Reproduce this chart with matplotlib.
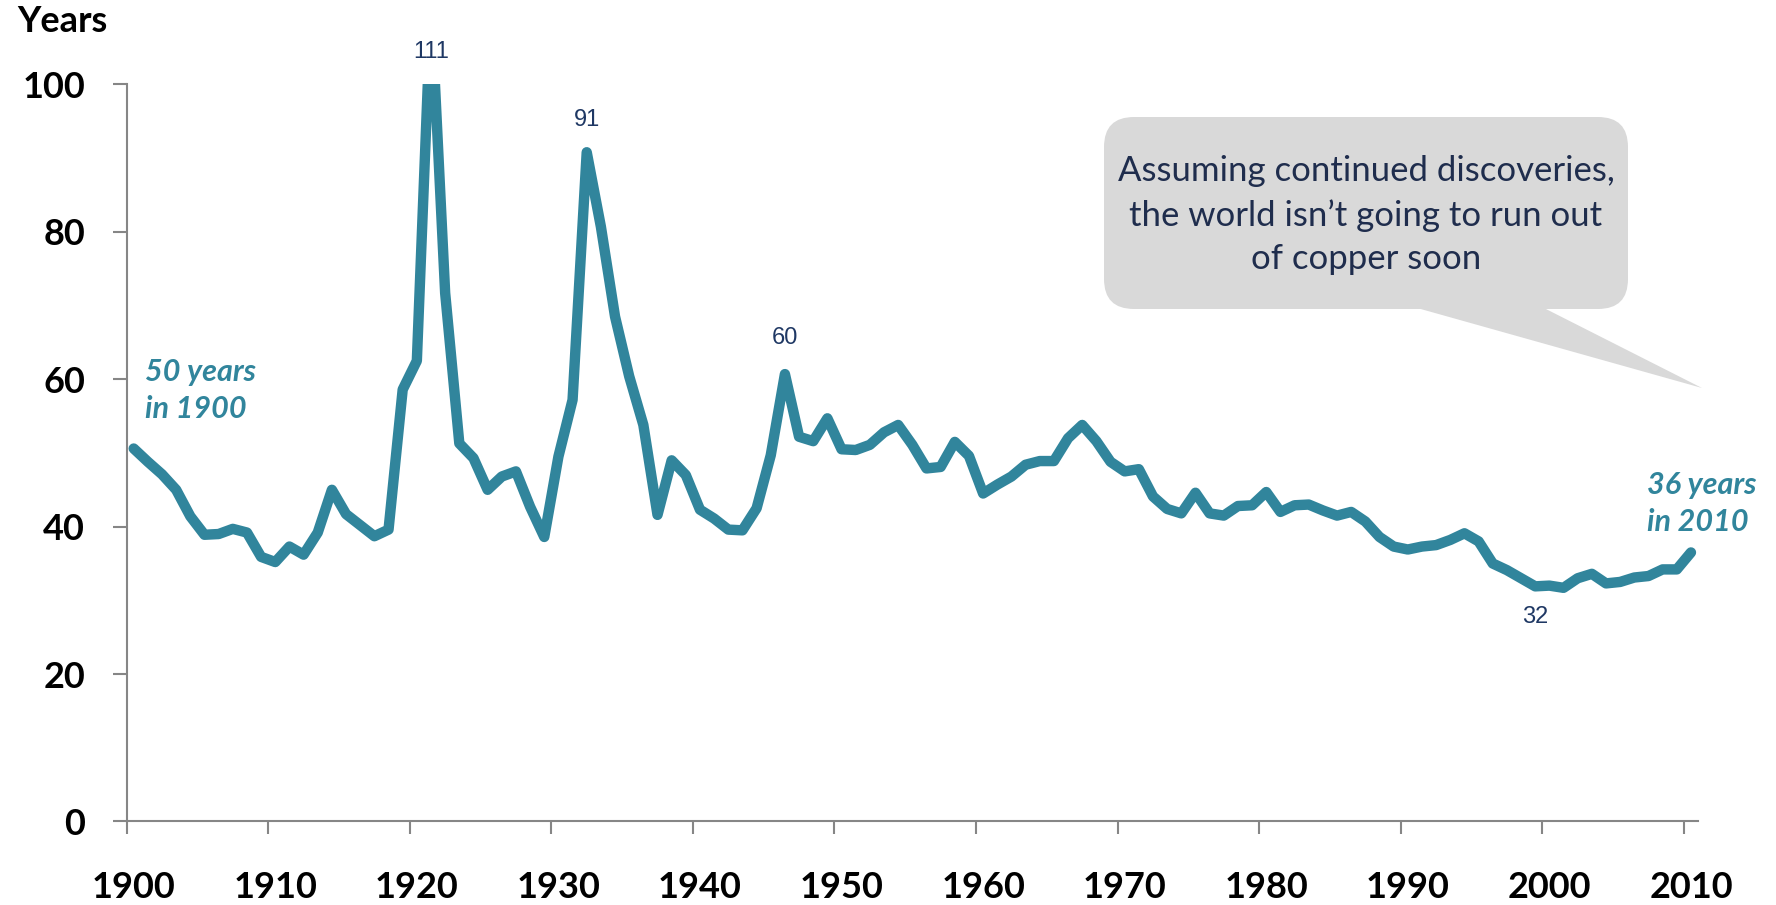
import numpy as np
import matplotlib
matplotlib.use("Agg")
import matplotlib.pyplot as plt
from matplotlib.patches import FancyBboxPatch, Polygon

# years of copper reserves (reserves / production)
years = np.arange(1900, 2011)
reserve_years = [
    50.6, 48.8, 47.1, 45.0, 41.4, 38.9, 39.0, 39.7, 39.2, 35.9,   # 1900s
    35.2, 37.3, 36.2, 39.2, 45.0, 41.7, 40.2, 38.7, 39.6, 58.6,   # 1910s
    62.5, 111.0, 71.7, 51.3, 49.3, 45.0, 46.8, 47.5, 42.7, 38.6,  # 1920s
    49.5, 57.2, 90.8, 80.7, 68.5, 60.4, 53.8, 41.6, 49.0, 47.0,   # 1930s
    42.3, 41.1, 39.6, 39.5, 42.5, 49.7, 60.7, 52.2, 51.6, 54.7,   # 1940s
    50.5, 50.4, 51.1, 52.8, 53.8, 51.1, 47.9, 48.1, 51.5, 49.6,   # 1950s
    44.5, 45.7, 46.8, 48.4, 48.9, 48.9, 52.0, 53.8, 51.6, 48.8,   # 1960s
    47.5, 47.8, 44.1, 42.4, 41.8, 44.6, 41.8, 41.5, 42.8, 42.9,   # 1970s
    44.7, 42.0, 42.9, 43.0, 42.2, 41.5, 42.0, 40.7, 38.6, 37.3,   # 1980s
    36.9, 37.3, 37.5, 38.2, 39.1, 38.0, 35.0, 34.1, 33.0, 31.9,   # 1990s
    32.0, 31.7, 33.0, 33.6, 32.3, 32.5, 33.1, 33.3, 34.2, 34.2,   # 2000s
    36.5,                                                         # 2010
]
yticks = [0, 20, 40, 60, 80, 100]
decades = list(range(1900, 2011, 10))

# labelled points: (year, text, offset in points)
peak_labels = [(1921, "111", 23), (1932, "91", 23), (1946, "60", 26), (1999, "32", -22)]

teal = "#31859C"
navy = "#1F3864"
grey = "#868686"

plt.rcParams["font.family"] = ["Lato", "DejaVu Sans"]

fig = plt.figure(figsize=(17.76, 9.05), dpi=100)
ax = fig.add_axes([0.0713, 0.0923, 0.8848, 0.8144])

x = years + 0.5
ax.plot(x, reserve_years, color=teal, lw=7.5,
        solid_capstyle="round", solid_joinstyle="round")

ax.set_xlim(1900, 2011)
ax.set_ylim(0, 100)

for s in ["top", "right"]:
    ax.spines[s].set_visible(False)
for s in ["left", "bottom"]:
    ax.spines[s].set_color(grey)
    ax.spines[s].set_linewidth(1.5)

ax.set_yticks(yticks)
ax.set_yticklabels([str(v) for v in yticks], fontsize=26, fontweight="bold")
ax.tick_params(axis="y", length=10, width=1.5, color=grey, pad=20)

ax.set_xticks(decades)
ax.set_xticklabels([])
ax.set_xticks([d + 0.5 for d in decades], minor=True)
ax.set_xticklabels([str(d) for d in decades], minor=True,
                   fontsize=26, fontweight="bold")
ax.tick_params(axis="x", which="major", length=9, width=1.5, color=grey)
ax.tick_params(axis="x", which="minor", length=0, pad=36)

fig.text(17 / 1776, 1 - 21 / 905, "Years", fontsize=26, fontweight="bold",
         va="center", ha="left")

for yr, txt, off in peak_labels:
    val = min(reserve_years[yr - 1900], 100)
    ax.annotate(txt, (yr + 0.5, val), xytext=(0, off), textcoords="offset points",
                ha="center", va="center", fontsize=17, color=navy,
                family=["Liberation Sans", "DejaVu Sans"], annotation_clip=False)

ax.text(1901.3, 58.5, "50 years\nin 1900", color=teal, fontsize=22,
        fontweight="bold", style="italic", ha="left", va="center", linespacing=1.4)
ax.text(2007.4, 43.1, "36 years\nin 2010", color=teal, fontsize=22,
        fontweight="bold", style="italic", ha="left", va="center", linespacing=1.4,
        clip_on=False)

# speech bubble, drawn in figure inches
tr = fig.dpi_scale_trans
box = FancyBboxPatch((11.04, 5.96), 5.24, 1.92,
                     boxstyle="round,pad=0,rounding_size=0.3",
                     transform=tr, facecolor="#D9D9D9", edgecolor="none", zorder=5)
fig.patches.append(box)
tail = Polygon([(14.10, 5.99), (15.40, 5.99), (17.02, 5.17)], closed=True,
               transform=tr, facecolor="#D9D9D9", edgecolor="none", zorder=5)
fig.patches.append(tail)
fig.text(13.66 / 17.76, 1 - 215 / 905,
         "Assuming continued discoveries,\nthe world isn\u2019t going to run out\nof copper soon",
         ha="center", va="center", fontsize=25, color="#1F2D4D", linespacing=1.45,
         zorder=6)

fig.savefig("out.png", dpi=100)
